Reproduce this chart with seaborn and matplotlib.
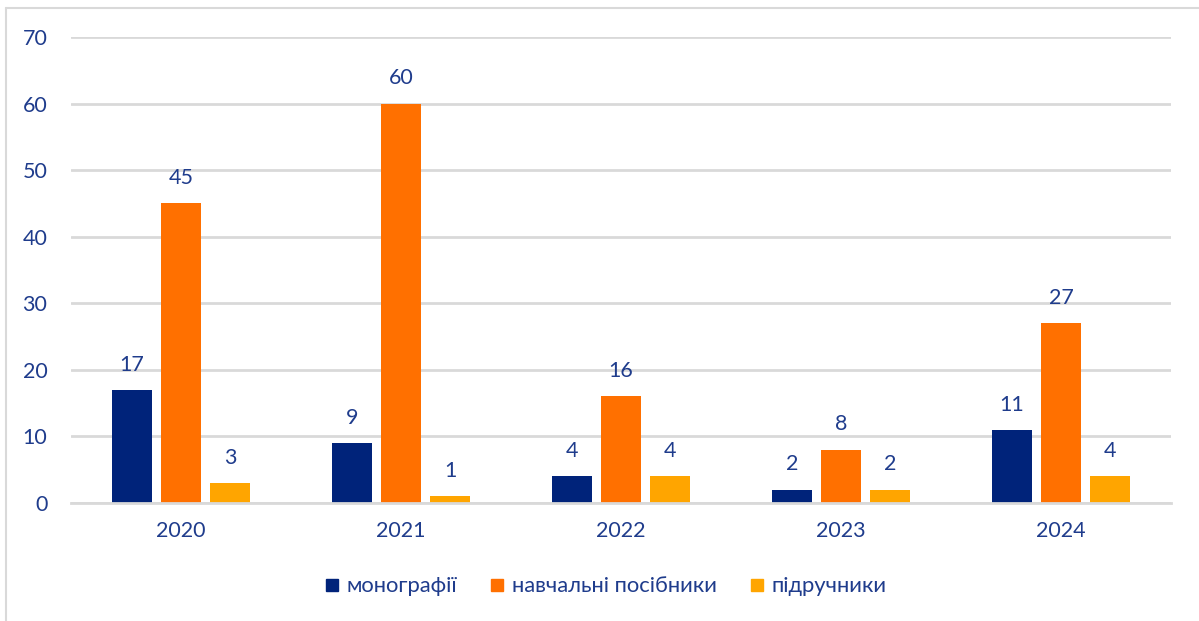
import pandas as pd
import seaborn as sns
import matplotlib.pyplot as plt
from matplotlib.lines import Line2D

years = ["2020", "2021", "2022", "2023", "2024"]
series = ["монографії", "навчальні посібники", "підручники"]
monographs = [17, 9, 4, 2, 11]
manuals = [45, 60, 16, 8, 27]
textbooks = [3, 1, 4, 2, 4]

colors = ["#00237A", "#FF7000", "#FFA500"]
text_color = "#1F3C8C"

df = pd.DataFrame({
    "year": years * 3,
    "kind": [series[0]] * 5 + [series[1]] * 5 + [series[2]] * 5,
    "value": monographs + manuals + textbooks,
})

sns.set_theme(style="white")
plt.rcParams["font.family"] = ["Lato", "DejaVu Sans"]

fig = plt.figure(figsize=(11.99, 6.21), dpi=100)
ax = fig.add_axes([0.0592, 0.19, 0.9175, 0.7504])

sns.barplot(
    data=df, x="year", y="value", hue="kind",
    palette=colors, width=0.668, gap=0.2, saturation=1,
    linewidth=0, ax=ax, legend=False,
)

for container in ax.containers:
    ax.bar_label(container, padding=11, fontsize=15.5, color=text_color)

ax.set_ylim(0, 70)
ax.set_yticks(range(0, 71, 10))
ax.yaxis.grid(True, color="#D9D9D9", linewidth=2)
ax.set_axisbelow(True)
for side in ["top", "right", "left"]:
    ax.spines[side].set_visible(False)
ax.spines["bottom"].set_color("#D9D9D9")
ax.spines["bottom"].set_linewidth(2)
ax.set_xlabel("")
ax.set_ylabel("")
ax.tick_params(axis="y", length=0, pad=17, labelsize=15.5, labelcolor=text_color)
ax.tick_params(axis="x", length=0, pad=13, labelsize=15.5, labelcolor=text_color)

handles = [Line2D([], [], marker="s", linestyle="", markersize=9,
                  markerfacecolor=c, markeredgecolor=c) for c in colors]
fig.legend(handles, series, loc="center", bbox_to_anchor=(0.505, 0.056),
           ncol=3, frameon=False, fontsize=15.8, handletextpad=0.3,
           columnspacing=1.5, handlelength=0.7, labelcolor=text_color)

# light frame around the chart area
fig.add_artist(Line2D([0.005, 0.005], [0.0, 0.987], transform=fig.transFigure,
                      color="#D9D9D9", linewidth=1.5))
fig.add_artist(Line2D([0.005, 1.0], [0.987, 0.987], transform=fig.transFigure,
                      color="#D9D9D9", linewidth=1.5))

plt.savefig("out.png", dpi=100)
